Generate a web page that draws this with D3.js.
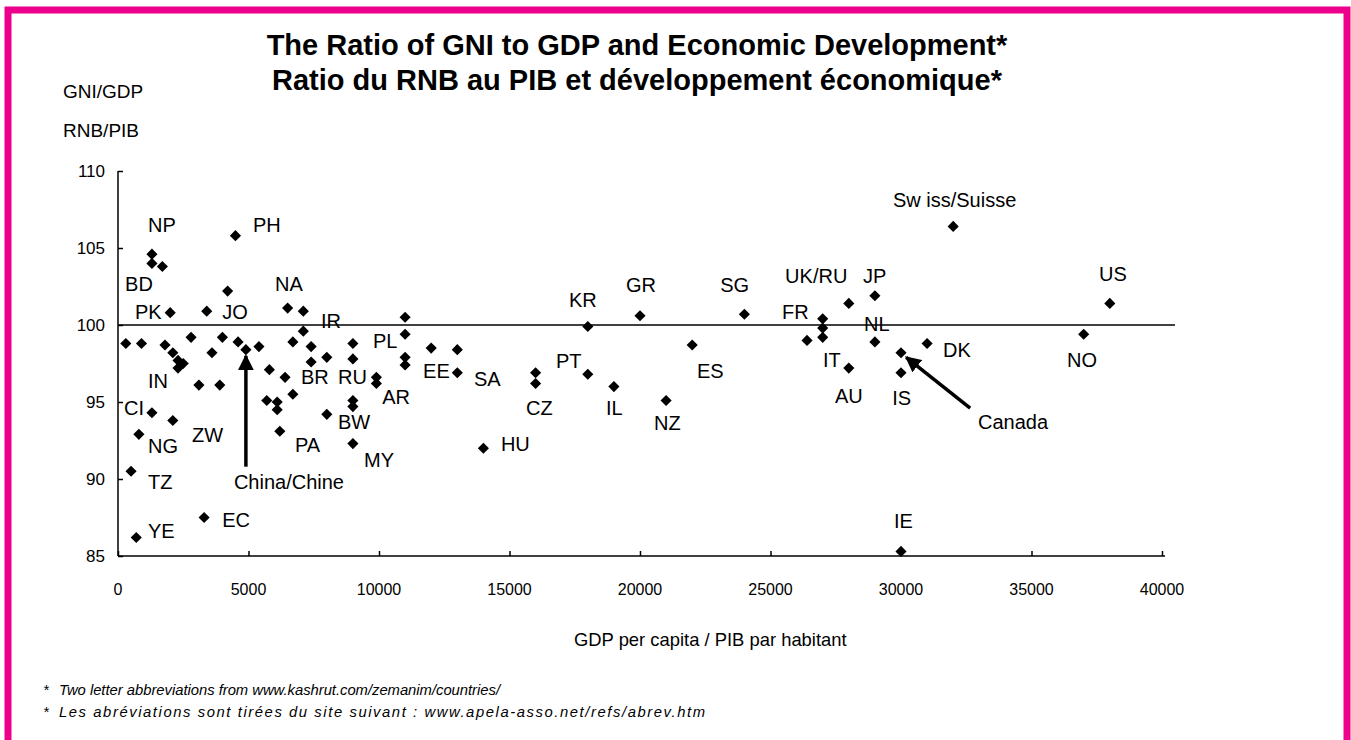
<!DOCTYPE html>
<html>
<head>
<meta charset="utf-8">
<script src="https://cdn.jsdelivr.net/npm/d3@7"></script>
<style>
  body { margin: 0; background: #fff; }
  svg { display: block; font-family: "Liberation Sans", Arial, sans-serif; }
</style>
</head>
<body>
<svg width="1351" height="740"></svg>
<script>
// GDP per capita / GNI-to-GDP ratio
var gdp = [300, 900, 1300, 1300, 1700, 1800, 2000, 2800, 2100, 2300, 2500, 2300,
  3400, 4200, 4500, 4000, 4600, 4900, 5400, 3600, 3100, 3900, 1300, 2100, 800, 500,
  3300, 700, 6500, 7100, 7100, 6700, 7400, 8000, 7400, 9000, 9000, 5800, 6400, 6700,
  5700, 6100, 6100, 8000, 9000, 9000, 6200, 9000, 9900, 9900, 11000, 11000, 11000,
  11000, 12000, 13000, 13000, 14000, 16000, 16000, 18000, 20000, 18000, 19000, 21000,
  22000, 24000, 32000, 29000, 28000, 27000, 27000, 27000, 26400, 29000, 30000, 31000,
  28000, 30000, 38000, 37000, 30000];
var ratio = [98.8, 98.8, 104.6, 104.0, 103.8, 98.7, 100.8, 99.2, 98.2, 97.7, 97.5, 97.2,
  100.9, 102.2, 105.8, 99.2, 98.9, 98.4, 98.6, 98.2, 96.1, 96.1, 94.3, 93.8, 92.9, 90.5,
  87.5, 86.2, 101.1, 100.9, 99.6, 98.9, 98.6, 97.9, 97.6, 98.8, 97.8, 97.1, 96.6, 95.5,
  95.1, 95.0, 94.5, 94.2, 95.1, 94.7, 93.1, 92.3, 96.6, 96.2, 100.5, 99.4, 97.9,
  97.4, 98.5, 98.4, 96.9, 92.0, 96.9, 96.2, 99.9, 100.6, 96.8, 96.0, 95.1,
  98.7, 100.7, 106.4, 101.9, 101.4, 100.4, 99.8, 99.2, 99.0, 98.9, 98.2, 98.8,
  97.2, 96.9, 101.4, 99.4, 85.3];

// country labels, placed in data units (left edge, baseline)
var labelText = ["NP", "BD", "PK", "JO", "PH", "NA", "IR", "PL", "IN", "CI", "NG", "ZW",
  "TZ", "YE", "EC", "China/Chine", "BR", "RU", "BW", "PA", "MY", "AR", "EE", "SA", "HU",
  "CZ", "KR", "GR", "PT", "IL", "NZ", "ES", "SG", "Sw iss/Suisse", "UK/RU", "JP", "FR",
  "NL", "IT", "AU", "IS", "DK", "Canada", "US", "NO", "IE"];
var labelGdp = [1150, 270, 650, 3990, 5170, 6020, 7780, 9770, 1150, 230, 1150, 2840,
  1150, 1150, 3990, 4440, 7010, 8430, 8430, 6780, 9430, 10120, 11690, 13640, 14670,
  15630, 17280, 19460, 16780, 18700, 20540, 22180, 23070, 29690, 25560, 28540, 25440,
  28580, 27010, 27470, 29660, 31610, 32950, 37590, 36360, 29730];
var labelRatio = [106.04, 102.21, 100.39, 100.39, 106.04, 102.21, 99.81, 98.51, 95.91,
  94.16, 91.69, 92.40, 89.35, 86.17, 86.88, 89.35, 96.17, 96.17, 93.25, 91.75, 90.78,
  94.87, 96.56, 96.04, 91.82, 94.16, 101.17, 102.14, 97.21, 94.16, 93.18, 96.56, 102.14,
  107.66, 102.73, 102.73, 100.39, 99.61, 97.27, 94.94, 94.81, 97.92, 93.25, 102.86,
  97.27, 86.82];

// arrows: [tail gdp, tail ratio, head gdp, head ratio]
var arrows = [[4900, 90.8, 4900, 98.0], [32650, 94.6, 30200, 97.9]];

var xTicks = [0, 5000, 10000, 15000, 20000, 25000, 30000, 35000, 40000];
var yTicks = [85, 90, 95, 100, 105, 110];

var svg = d3.select("svg");

// magenta frame
svg.append("rect")
  .attr("x", 8).attr("y", 10)
  .attr("width", 1339).attr("height", 760)
  .attr("fill", "none")
  .attr("stroke", "#ec008c")
  .attr("stroke-width", 7);

var x = d3.scaleLinear().domain([0, 40000]).range([118, 1162]);
var y = d3.scaleLinear().domain([85, 110]).range([556, 171]);

// title
var title = svg.append("text")
  .attr("text-anchor", "middle")
  .attr("font-weight", "bold")
  .attr("font-size", "29px");
title.append("tspan").attr("x", 637).attr("y", 55)
  .text("The Ratio of GNI to GDP and Economic Development*");
title.append("tspan").attr("x", 637).attr("y", 90)
  .text("Ratio du RNB au PIB et développement économique*");

svg.append("text").attr("x", 63).attr("y", 98).attr("font-size", "19px").text("GNI/GDP");
svg.append("text").attr("x", 63).attr("y", 137).attr("font-size", "19px").text("RNB/PIB");

// axes, ticks pointing inward
var xAxis = svg.append("g")
  .attr("transform", "translate(0," + y(85) + ")")
  .call(d3.axisTop(x).tickValues(xTicks).tickSize(5).tickFormat(""));
xAxis.select(".domain").attr("d", "M" + x(0) + ",0H" + (x(40000) + 3));

var yAxis = svg.append("g")
  .attr("transform", "translate(" + x(0) + ",0)")
  .call(d3.axisRight(y).tickValues(yTicks).tickSize(5).tickFormat(""));
yAxis.select(".domain").attr("d", "M0," + y(110) + "V" + y(85));

svg.selectAll(".domain, .tick line").attr("stroke", "#000").attr("stroke-width", 1.5);

svg.selectAll(".xlab")
  .data(xTicks)
  .enter()
  .append("text")
  .attr("x", function(d) { return x(d); })
  .attr("y", 595)
  .attr("text-anchor", "middle")
  .attr("font-size", "16px")
  .text(function(d) { return d; });

svg.selectAll(".ylab")
  .data(yTicks)
  .enter()
  .append("text")
  .attr("x", 105)
  .attr("y", function(d) { return y(d) + 6; })
  .attr("text-anchor", "end")
  .attr("font-size", "17px")
  .text(function(d) { return d; });

svg.append("text")
  .attr("x", 574).attr("y", 646)
  .attr("font-size", "18.4px")
  .text("GDP per capita / PIB par habitant");

// reference line at 100
svg.append("line")
  .attr("x1", x(0)).attr("x2", x(40500))
  .attr("y1", y(100)).attr("y2", y(100))
  .attr("stroke", "#000").attr("stroke-width", 1.5);

// points
var diamond = d3.symbol().type(d3.symbolSquare).size(62);
svg.selectAll(".pt")
  .data(d3.range(gdp.length))
  .enter()
  .append("path")
  .attr("d", diamond)
  .attr("transform", function(i) {
    return "translate(" + x(gdp[i]) + "," + y(ratio[i]) + ") rotate(45)";
  })
  .attr("fill", "#000");

svg.selectAll(".lbl")
  .data(labelText)
  .enter()
  .append("text")
  .attr("x", function(d, i) { return x(labelGdp[i]); })
  .attr("y", function(d, i) { return y(labelRatio[i]); })
  .attr("font-size", "20px")
  .attr("fill", "#000")
  .text(function(d) { return d; });

// arrows
svg.append("defs").append("marker")
  .attr("id", "head")
  .attr("viewBox", "0 0 10 10")
  .attr("refX", 9).attr("refY", 5)
  .attr("markerWidth", 4.5).attr("markerHeight", 4.5)
  .attr("orient", "auto")
  .append("path")
  .attr("d", "M0,0L10,5L0,10Z")
  .attr("fill", "#000");

svg.selectAll(".arrow")
  .data(arrows)
  .enter()
  .append("line")
  .attr("x1", function(d) { return x(d[0]); })
  .attr("y1", function(d) { return y(d[1]); })
  .attr("x2", function(d) { return x(d[2]); })
  .attr("y2", function(d) { return y(d[3]); })
  .attr("stroke", "#000")
  .attr("stroke-width", 3.5)
  .attr("marker-end", "url(#head)");

// footnotes
var notes = ["Two letter abbreviations from www.kashrut.com/zemanim/countries/",
  "Les abréviations sont tirées du site suivant : www.apela-asso.net/refs/abrev.htm"];
var noteWidth = [441, 646];
notes.forEach(function(n, i) {
  svg.append("text").attr("x", 43).attr("y", 695 + i * 22)
    .attr("font-size", "14.8px").attr("font-style", "italic").text("*");
  svg.append("text").attr("x", 59).attr("y", 695 + i * 22)
    .attr("font-size", "14.8px").attr("font-style", "italic")
    .attr("textLength", noteWidth[i]).attr("lengthAdjust", "spacing")
    .text(n);
});
</script>
</body>
</html>
